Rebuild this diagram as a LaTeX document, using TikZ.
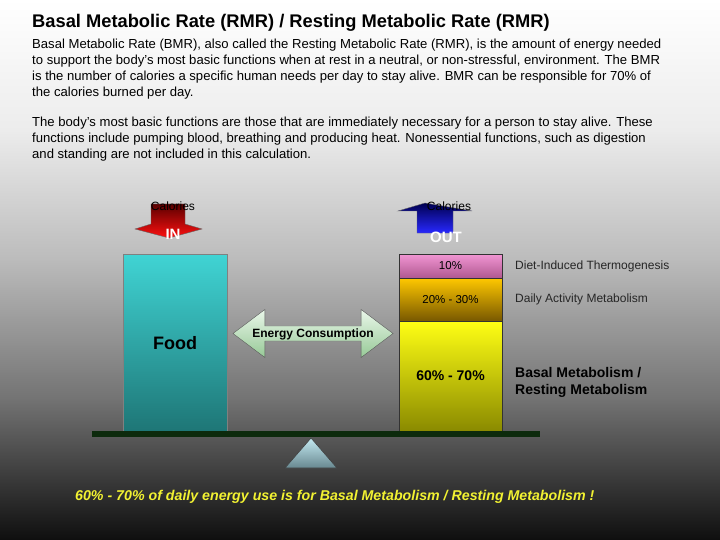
\documentclass[tikz,border=0pt]{standalone}
\usepackage{fontspec}
\setmainfont{Liberation Sans}
\usetikzlibrary{positioning, shapes.arrows}

\definecolor{bgA}{HTML}{ECECEC}
\definecolor{bgB}{HTML}{BBBBBB}
\definecolor{bgC}{HTML}{727272}
\definecolor{bgD}{HTML}{0E0E0E}
\definecolor{inTop}{HTML}{5A0000}
\definecolor{inBot}{HTML}{FF1010}
\definecolor{outTop}{HTML}{000050}
\definecolor{outBot}{HTML}{2828FF}
\definecolor{foodTop}{HTML}{40D4D4}
\definecolor{foodBot}{HTML}{1E7676}
\definecolor{ditTop}{HTML}{F296D4}
\definecolor{ditBot}{HTML}{B05890}
\definecolor{damTop}{HTML}{FFC800}
\definecolor{damBot}{HTML}{785800}
\definecolor{bmTop}{HTML}{FFFF14}
\definecolor{bmBot}{HTML}{8A8A00}
\definecolor{ecTop}{HTML}{EAF8EA}
\definecolor{ecBot}{HTML}{96C896}
\definecolor{beamGreen}{HTML}{0C2A0C}
\definecolor{fulTop}{HTML}{C4EAF2}
\definecolor{fulBot}{HTML}{688890}
\definecolor{noteYellow}{HTML}{F2F232}

\begin{document}
\begin{tikzpicture}[x=1pt, y=-1pt,
    boxtxt/.style={font=\fontsize{11.5}{13}\selectfont},
    bodytxt/.style={anchor=north west, inner sep=0pt, align=left, font=\fontsize{13.1}{16}\selectfont},
    sidelbl/.style={font=\fontsize{12}{14}\selectfont, text=black!85, inner sep=0pt, anchor=west},
    stackbox/.style={draw=black!80, minimum width=103pt, inner sep=0pt, outer sep=0pt},
    calTxt/.style={font=\fontsize{12}{14}\selectfont, inner sep=0pt, anchor=base}
  ]
    \useasboundingbox (0,0) rectangle (720,540);

    % Background
    \shade[top color=white, bottom color=bgA] (0,-1) rectangle (720,131);
    \shade[top color=bgA, bottom color=bgB] (0,130) rectangle (720,261);
    \shade[top color=bgB, bottom color=bgC] (0,260) rectangle (720,401);
    \shade[top color=bgC, bottom color=bgD] (0,400) rectangle (720,541);

    % Heading and text
    \node[anchor=base west, inner sep=0pt, font=\fontsize{18.3}{20}\selectfont\bfseries] (title) at (32,28)
        {Basal Metabolic Rate (RMR) / Resting Metabolic Rate (RMR)};
    \node[bodytxt] (intro) at (32,38.5)
        {Basal Metabolic Rate (BMR), also called the Resting Metabolic Rate (RMR), is the amount of energy needed\\
         to support the body's most basic functions when at rest in a neutral, or non-stressful, environment. The BMR\\
         is the number of calories a specific human needs per day to stay alive. BMR can be responsible for 70\% of\\
         the calories burned per day.};
    \node[bodytxt] (basics) at (32,116.5)
        {The body's most basic functions are those that are immediately necessary for a person to stay alive. These\\
         functions include pumping blood, breathing and producing heat. Nonessential functions, such as digestion\\
         and standing are not included in this calculation.};

    % Calories in / out
    \shade[top color=inTop, bottom color=inBot, draw=black!60] (151,204) -- (185,204) -- (185,224) -- (202,229) -- (169,238) -- (135,229) -- (151,224) -- cycle;
    \node[calTxt] (calin) at (173,211) {Calories};
    \node[calTxt, text=white, font=\fontsize{15}{17}\selectfont\bfseries] (in) at (173,240) {IN};

    \shade[top color=outTop, bottom color=outBot, draw=black!60] (417,233) -- (417,211) -- (398,211) -- (425,203) -- (472,211) -- (453,211) -- (453,233) -- cycle;
    \node[calTxt] (calout) at (449,211) {Calories};
    \node[calTxt, text=white, font=\fontsize{15}{17}\selectfont\bfseries] (out) at (446,242) {OUT};

    % Food
    \node[draw=black!50, top color=foodTop, bottom color=foodBot, minimum width=104pt, minimum height=177pt,
          anchor=north west, inner sep=0pt, font=\fontsize{18}{20}\selectfont\bfseries] (food) at (123,254) {Food};

    % Energy out stack
    \node[stackbox, top color=ditTop, bottom color=ditBot, minimum height=24pt, anchor=north west, boxtxt] (dit) at (399,254) {10\%};
    \node[stackbox, top color=damTop, bottom color=damBot, minimum height=43pt, below=0pt of dit, boxtxt] (dam) {20\% - 30\%};
    \node[stackbox, top color=bmTop, bottom color=bmBot, minimum height=110pt, below=0pt of dam,
          font=\fontsize{14}{16}\selectfont\bfseries] (bm) {60\% - 70\%};

    \node[sidelbl, right=13pt of dit] (ditlbl) {Diet-Induced Thermogenesis};
    \node[sidelbl, right=13pt of dam] (damlbl) {Daily Activity Metabolism};
    \node[sidelbl, right=13pt of bm, yshift=-6.5pt, align=left, text=black,
          font=\fontsize{14}{17}\selectfont\bfseries] (bmlbl) {Basal Metabolism /\\Resting Metabolism};

    % Energy consumption
    \node[double arrow, draw=black!65, top color=ecTop, bottom color=ecBot, minimum height=160pt,
          double arrow tip angle=74, double arrow head extend=12.5pt, inner xsep=2pt, inner ysep=0pt,
          text height=9pt, text depth=2pt, minimum width=48pt,
          font=\fontsize{12}{14}\selectfont\bfseries] (ec) at (313,333.5) {Energy Consumption};

    % Balance
    \node[fill=beamGreen, minimum width=448pt, minimum height=6pt, inner sep=0pt, anchor=north west] (beam) at (92,431) {};
    \shade[top color=fulTop, bottom color=fulBot, draw=black!75, line width=0.6pt] (311,438) -- (337,468) -- (285,468) -- cycle;

    % Note
    \node[anchor=base west, inner sep=0pt, text=noteYellow, font=\fontsize{14.2}{16}\selectfont\bfseries\itshape] (note) at (75,500)
        {60\% - 70\% of daily energy use is for Basal Metabolism / Resting Metabolism !};
\end{tikzpicture}
\end{document}
